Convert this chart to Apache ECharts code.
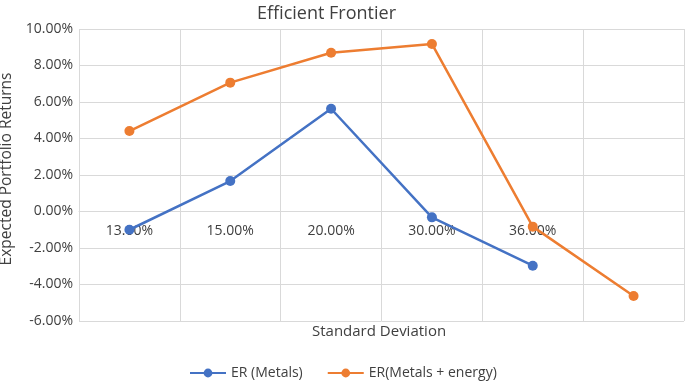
<!DOCTYPE html>
<html>
<head>
<meta charset="utf-8">
<script src="https://cdn.jsdelivr.net/npm/echarts@6/dist/echarts.min.js"></script>
<style>
  html, body { margin: 0; padding: 0; background: #fff; }
  #chart { width: 685px; height: 381px; }
</style>
</head>
<body>
<div id="chart"></div>
<script>
// standard deviation categories (last one has no label)
const categories = ['13.00%', '15.00%', '20.00%', '30.00%', '36.00%', ''];
// expected returns, in percent
const erMetals = [-1.0, 1.67, 5.63, -0.32, -2.97];
const erMetalsEnergy = [4.41, 7.06, 8.70, 9.18, -0.83, -4.63];
const yTicks = { min: -6, max: 10, step: 2 };

const FONT = 'Open Sans';
const TXT = '#404040';
const GRID_LINE = '#d9d9d9';

// plot box (Excel layout)
const GRID_TOP = 29, GRID_BOTTOM = 60, CHART_H = 381;
const plotH = CHART_H - GRID_TOP - GRID_BOTTOM;
// move category axis up onto the 0 line
const zeroOffset = -plotH * (0 - yTicks.min) / (yTicks.max - yTicks.min);

const chart = echarts.init(document.getElementById('chart'));

const option = {
    textStyle: { fontFamily: FONT },
    title: {
        text: 'Efficient Frontier',
        left: 252,
        top: 0,
        textStyle: { fontFamily: FONT, fontSize: 18, fontWeight: 'normal', color: TXT }
    },
    grid: { left: 79, right: 1, top: GRID_TOP, bottom: GRID_BOTTOM, outerBoundsMode: 'none' },
    legend: {
        top: 361,
        left: 184,
        itemWidth: 36,
        itemHeight: 11,
        itemGap: 24,
        textStyle: { fontFamily: FONT, fontSize: 14, color: TXT },
        data: ['ER (Metals)', 'ER(Metals + energy)']
    },
    graphic: [{
        type: 'text',
        left: 312,
        top: 324,
        style: { text: 'Standard Deviation', font: '15px "Open Sans"', fill: TXT }
    }],
    xAxis: {
        type: 'category',
        data: categories,
        boundaryGap: true,
        position: 'bottom',
        offset: zeroOffset,
        axisLine: { onZero: false, lineStyle: { color: GRID_LINE, width: 1 } },
        axisTick: { show: false },
        axisLabel: { color: TXT, fontSize: 14, margin: 13, interval: 0 },
        splitLine: { show: true, interval: 0, lineStyle: { color: GRID_LINE, width: 1 } }
    },
    yAxis: {
        type: 'value',
        min: yTicks.min,
        max: yTicks.max,
        interval: yTicks.step,
        name: 'Expected Portfolio Returns',
        nameLocation: 'middle',
        nameRotate: 90,
        nameGap: 54,
        nameTextStyle: { fontSize: 15.5, color: TXT, padding: [0, 0, 0, 12] },
        axisLine: { show: false },
        axisTick: { show: false },
        axisLabel: {
            color: TXT,
            fontSize: 14,
            margin: 6,
            formatter: v => v.toFixed(2) + '%'
        },
        splitLine: { lineStyle: { color: GRID_LINE, width: 1 } }
    },
    series: [
        {
            name: 'ER (Metals)',
            type: 'line',
            data: erMetals,
            color: '#4472C4',
            symbol: 'circle',
            symbolSize: 10,
            lineStyle: { width: 2.5 },
            z: 3
        },
        {
            name: 'ER(Metals + energy)',
            type: 'line',
            data: erMetalsEnergy,
            color: '#ED7D31',
            symbol: 'circle',
            symbolSize: 10,
            lineStyle: { width: 2.5 },
            z: 2
        }
    ]
};

chart.setOption(option);
</script>
</body>
</html>
